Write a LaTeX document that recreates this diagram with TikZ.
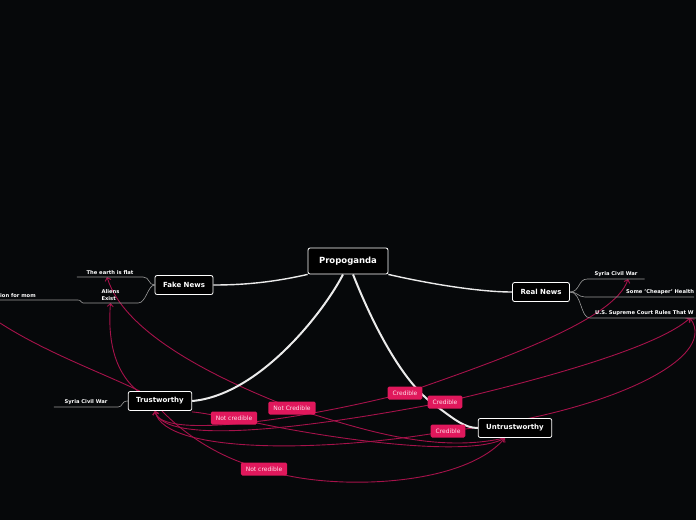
\documentclass[tikz,border=0pt]{standalone}
\usepackage{fontspec}
\setmainfont{DejaVu Sans}
\usepackage{tikz}
\usetikzlibrary{arrows.meta,positioning,backgrounds}
\definecolor{BgBlack}{HTML}{06080A}
\definecolor{LinkPink}{HTML}{A5124A}
\definecolor{TagPink}{HTML}{E0185C}
\definecolor{TagText}{HTML}{FFE0EA}
\definecolor{TwigGrey}{HTML}{9A9A9A}

\begin{document}
\begin{tikzpicture}[x=1pt,y=-1pt,
  topic/.style={draw=white,line width=0.8pt,fill=black,rounded corners=2pt,text=white,font=\bfseries\fontsize{7}{8}\selectfont,inner xsep=8pt,minimum height=19pt},
  leaf/.style={text=white,font=\bfseries\fontsize{5.2}{7}\selectfont,inner xsep=0pt,inner ysep=2pt,anchor=south},
  tag/.style={fill=TagPink,rounded corners=1.5pt,text=TagText,font=\fontsize{6}{7}\selectfont,inner xsep=5pt,minimum height=13pt},
  branch/.style={white!92!black,line width=1.4pt},
  twig/.style={TwigGrey,line width=0.6pt},
  link/.style={LinkPink,line width=0.9pt},
  arr/.style={link,-{Straight Barb[length=3pt,width=6pt]}},
  biarr/.style={link,{Straight Barb[length=3pt,width=6pt]}-{Straight Barb[length=3pt,width=6pt]}}
]
  \useasboundingbox (0,0) rectangle (696,520);

  % main topics
  \node[topic,font=\bfseries\fontsize{8.5}{10}\selectfont,inner xsep=11pt,minimum height=26pt] (prop) at (348,261) {Propoganda};
  \node[topic] (fake) at (184,285) {Fake News};
  \node[topic] (real) at (541,292) {Real News};
  \node[topic] (trust) at (160,401) {Trustworthy};
  \node[topic] (untrust) at (515,428) {Untrustworthy};

  % leaves
  \node[leaf,minimum width=66pt] (flat) at (110,277) {The earth is flat};
  \node[leaf,minimum width=55pt,align=left] (aliens) at (110.5,303) {Aliens\\Exist};
  \node[leaf,anchor=south west] (mom) at (0,300) {ion for mom};
  \node[leaf,minimum width=57pt] (syriaR) at (616,279) {Syria Civil War};
  \node[leaf,anchor=south west] (health) at (626,297) {Some 'Cheaper' Health};
  \node[leaf,anchor=south west,inner xsep=5pt] (court) at (590,318) {U.S. Supreme Court Rules That W};
  \node[leaf,minimum width=64pt] (syriaT) at (86,407) {Syria Civil War};

  % relation tags
  \node[tag] (cred1) at (405,393) {Credible};
  \node[tag] (cred2) at (445,402) {Credible};
  \node[tag] (cred3) at (448,431) {Credible};
  \node[tag] (ncA) at (292,408) {Not Credible};
  \node[tag] (ncB) at (234,418) {Not credible};
  \node[tag] (ncC) at (264,469) {Not credible};

  \coordinate (offleft) at (0,323);

  \begin{pgfonlayer}{background}
    \fill[BgBlack] (0,0) rectangle (696,520);

    % relations
    \draw[link] (offleft) .. controls (45,352) and (100,372) .. ([xshift=12pt]trust.north west);
    \draw[arr] ([xshift=10pt]trust.north west) .. controls (112,370) and (108,335) .. (aliens.south);
    \draw[arr] ([xshift=-10pt]untrust.south) .. controls (430,455) and (350,425) .. (ncA.center)
      .. controls (220,380) and (125,335) .. ([xshift=-3pt]flat.south);
    \draw[arr] ([yshift=-1pt]trust.south east) .. controls (205,413) and (215,416) .. (ncB.center)
      .. controls (330,440) and (470,458) .. ([xshift=-10pt]untrust.south);
    \draw[arr] ([xshift=2pt]trust.south) .. controls (190,440) and (230,462) .. (ncC.center)
      .. controls (320,490) and (460,490) .. ([xshift=-10pt]untrust.south);
    \draw[biarr] ([xshift=-5pt]trust.south) .. controls (160,440) and (300,420) .. (cred1.center)
      .. controls (500,360) and (615,320) .. ([xshift=12pt]syriaR.south);
    \draw[biarr] ([xshift=-5pt]trust.south) .. controls (165,445) and (300,430) .. (cred2.center)
      .. controls (560,375) and (660,345) .. ([xshift=100pt]court.south west);
    \draw[biarr] ([xshift=-5pt]trust.south) .. controls (165,455) and (330,452) .. (cred3.center)
      .. controls (600,415) and (720,360) .. ([xshift=100pt]court.south west);

    % branches
    \draw[branch] (prop.south west) .. controls (270,283) and (240,285) .. (fake.east);
    \draw[branch] (prop.south east) .. controls (430,284) and (480,292) .. (real.west);
    \draw[branch,line width=2pt] ([xshift=-5pt]prop.south) .. controls (325,310) and (260,395) .. (trust.east);
    \draw[branch,line width=2pt] ([xshift=5pt]prop.south) .. controls (375,330) and (405,385) .. (435,405)
      .. controls (455,420) and (465,428) .. (untrust.west);

    % twigs
    \draw[twig] (fake.west) .. controls (148,285) and (150,277) .. (flat.south east) -- (flat.south west);
    \draw[twig] (fake.west) .. controls (148,285) and (146,303) .. (aliens.south east) -- (aliens.south west);
    \draw[twig] (aliens.south west) .. controls (80,303) and (82,300) .. ([xshift=78pt]mom.south west) -- (mom.south west);
    \draw[twig] (real.east) .. controls (580,292) and (578,279) .. (syriaR.south west) -- (syriaR.south east);
    \draw[twig] (real.east) .. controls (578,292) and (578,297) .. ([xshift=-41pt]health.south west) -- (health.south east);
    \draw[twig] (real.east) .. controls (582,292) and (580,318) .. (court.south west) -- (court.south east);
    \draw[twig] (trust.west) .. controls (121,401) and (123,407) .. (syriaT.south east) -- (syriaT.south west);
  \end{pgfonlayer}
\end{tikzpicture}
\end{document}
